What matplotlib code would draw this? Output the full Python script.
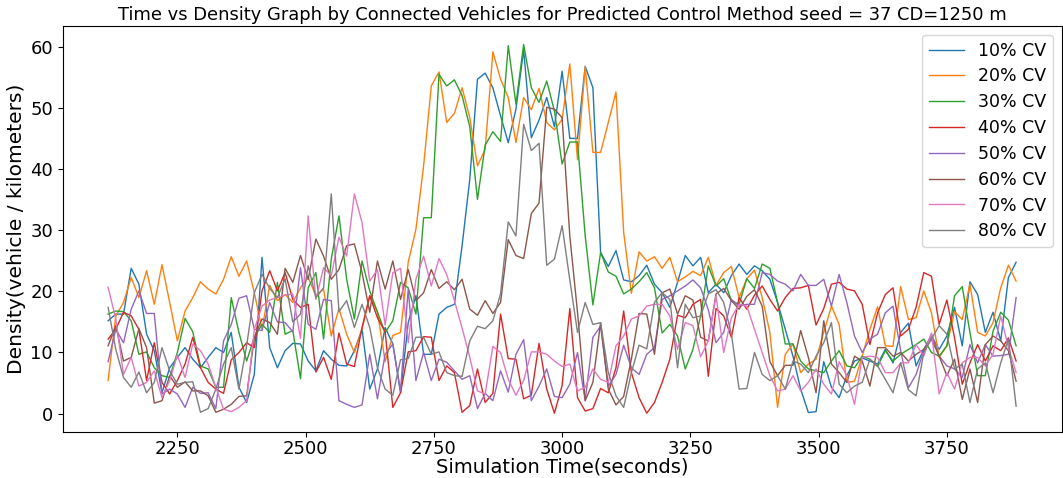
import numpy as np
import matplotlib
matplotlib.use('Agg')
import matplotlib.pyplot as plt

# time stamps (seconds), one sample every 15 s
times = np.arange(2115, 3886, 15)

labels = ['10% CV', '20% CV', '30% CV', '40% CV', '50% CV', '60% CV', '70% CV', '80% CV']

cv10 = [15.2, 16.3, 16.3, 23.8, 21.2, 13.0, 10.3, 3.4, 7.5, 9.2, 10.8, 8.9, 7.5, 9.2, 10.8, 10.0, 13.3, 4.3, 1.8, 6.4, 25.6, 10.8, 7.5, 10.3,
        11.5, 11.4, 8.6, 7.0, 10.3, 8.9, 7.9, 7.8, 10.3, 13.8, 4.0, 7.3, 14.1, 11.4, 3.4, 14.9, 19.3, 9.7, 9.7, 16.3, 17.4, 17.9, 27.5, 38.4,
        54.8, 55.8, 53.4, 48.8, 44.4, 49.9, 59.6, 45.2, 48.1, 51.8, 47.0, 56.1, 45.1, 45.1, 56.9, 53.4, 26.4, 24.1, 26.7, 21.9, 21.6, 22.6, 24.3, 21.2,
        19.8, 17.4, 21.5, 25.9, 24.2, 25.6, 19.8, 21.2, 19.8, 22.6, 24.5, 22.8, 24.2, 23.4, 22.0, 18.2, 13.8, 9.4, 4.0, 0.16, 0.3, 8.5, 4.3, 2.6,
        6.2, 8.6, 9.1, 8.6, 8.1, 10.5, 8.3, 13.3, 14.8, 7.8, 10.5, 12.7, 10.5, 12.7, 17.4, 11.1, 21.6, 19.5, 13.3, 16.6, 11.9, 22.3, 24.8]

cv20 = [5.4, 16.0, 18.2, 22.3, 19.0, 23.4, 17.9, 24.4, 18.2, 11.9, 16.8, 19.0, 21.6, 20.4, 19.6, 22.0, 25.7, 22.5, 25.0, 19.8, 13.8, 21.0, 18.5, 19.5,
        18.2, 20.6, 22.3, 19.3, 20.4, 12.7, 17.2, 13.0, 10.0, 13.8, 19.3, 16.7, 8.5, 12.8, 13.3, 24.8, 30.2, 40.6, 53.7, 56.0, 47.7, 49.2, 53.4,
        48.5, 40.6, 43.3, 59.3, 54.8, 51.8, 44.4, 51.8, 49.8, 53.3, 47.7, 46.5, 48.2, 57.3, 41.6, 56.9, 42.8, 42.8, 47.7, 52.7, 29.7, 19.7, 26.5, 25.0, 25.7,
        23.8, 25.6, 21.6, 22.4, 23.3, 22.6, 25.6, 21.0, 23.1, 24.1, 19.0, 22.1, 23.5, 19.0, 13.3, 1.0, 9.7, 11.4, 6.7, 8.1, 8.9, 13.3, 17.6, 14.6,
        5.1, 5.3, 9.4, 13.8, 17.5, 11.1, 11.0, 20.8, 15.4, 15.7, 20.1, 16.5, 9.2, 11.1, 16.7, 15.4, 21.2, 13.3, 12.7, 14.9, 20.6, 24.3, 21.7]

cv30 = [16.3, 16.8, 16.7, 15.2, 9.7, 10.1, 7.5, 6.2, 5.9, 10.0, 15.6, 13.4, 7.8, 7.3, 4.3, 4.3, 19.0, 13.3, 8.6, 12.5, 14.6, 13.3, 21.5, 13.0,
        13.6, 5.7, 20.6, 23.1, 12.2, 25.3, 32.4, 22.0, 15.5, 25.0, 20.1, 16.6, 13.3, 15.2, 21.5, 20.6, 16.3, 32.1, 32.1, 55.6, 53.7, 54.7, 52.1,
        47.0, 35.1, 44.0, 46.2, 44.6, 60.3, 50.7, 60.5, 53.4, 51.0, 54.5, 49.6, 40.9, 44.5, 44.5, 29.1, 17.8, 26.4, 23.2, 22.5, 19.6, 20.4, 21.6, 23.1, 20.6,
        13.2, 14.6, 12.7, 7.3, 10.5, 16.0, 24.2, 20.9, 22.1, 18.5, 17.9, 22.1, 20.5, 24.5, 23.8, 18.2, 11.4, 11.4, 8.6, 7.3, 7.0, 6.7, 8.6, 10.3,
        7.8, 7.5, 9.4, 8.9, 7.7, 10.3, 8.6, 9.7, 10.5, 11.3, 12.2, 10.0, 9.4, 11.1, 19.3, 20.8, 13.3, 6.2, 6.2, 13.5, 16.6, 15.3, 11.1]

cv40 = [12.2, 13.8, 16.6, 16.0, 13.8, 5.4, 11.6, 5.1, 3.2, 5.4, 8.1, 12.5, 7.5, 5.1, 4.0, 3.3, 8.8, 10.0, 11.6, 10.8, 20.1, 23.4, 20.1, 23.1,
        18.7, 17.4, 17.9, 6.8, 9.2, 5.6, 13.2, 8.1, 7.7, 14.1, 19.3, 15.7, 13.4, 1.0, 3.4, 10.1, 10.3, 12.6, 12.5, 5.4, 7.8, 6.7, 0.2, 1.3,
        7.3, 1.8, 3.3, 16.3, 9.0, 8.9, 2.4, 3.0, 11.5, 4.0, 0.05, 4.6, 17.2, 2.6, 0.4, 0.8, 4.1, 3.4, 7.5, 16.8, 6.7, 2.6, 0.05, 1.8,
        5.1, 8.9, 16.1, 15.7, 17.9, 18.7, 6.1, 17.2, 16.0, 12.5, 19.0, 17.1, 19.4, 20.9, 18.7, 16.8, 19.0, 20.5, 20.6, 21.0, 14.5, 17.2, 21.2, 21.5,
        20.4, 20.1, 17.9, 11.3, 16.5, 19.5, 20.6, 12.7, 13.8, 17.4, 23.1, 22.5, 14.6, 18.6, 12.4, 4.8, 8.3, 11.3, 8.6, 11.1, 10.3, 12.4, 8.6]

cv50 = [8.5, 13.8, 11.6, 17.1, 20.1, 16.4, 16.4, 3.2, 4.0, 3.2, 1.0, 4.3, 3.3, 3.4, 0.8, 11.9, 14.6, 18.9, 19.3, 13.8, 13.6, 18.2, 15.0, 14.9,
        13.4, 23.9, 14.6, 13.8, 18.7, 18.5, 2.1, 1.5, 1.0, 1.4, 9.7, 2.4, 9.7, 11.4, 3.7, 20.4, 5.4, 10.0, 5.4, 8.9, 8.4, 7.0, 5.6, 6.2,
        0.8, 3.3, 2.1, 7.0, 3.5, 9.7, 12.1, 2.1, 4.5, 7.3, 2.8, 2.6, 4.8, 10.0, 2.1, 12.5, 14.3, 4.5, 6.4, 11.2, 7.5, 6.4, 9.7, 10.8,
        18.7, 19.3, 20.1, 20.9, 21.9, 20.6, 17.0, 11.6, 13.3, 18.7, 17.6, 17.9, 17.9, 23.1, 22.8, 21.7, 21.2, 20.1, 22.8, 21.0, 21.0, 22.0, 17.6, 22.8,
        18.2, 12.7, 10.0, 12.2, 13.0, 16.5, 17.6, 10.3, 4.2, 6.4, 10.3, 13.0, 9.4, 7.8, 7.3, 5.9, 11.3, 8.3, 11.3, 9.4, 9.5, 9.7, 19.0]

cv60 = [11.1, 14.4, 8.6, 9.2, 13.9, 10.8, 1.7, 2.1, 6.2, 4.3, 5.2, 3.7, 3.7, 2.9, 0.2, 0.7, 1.5, 2.8, 2.9, 12.5, 15.5, 14.9, 13.0, 23.8,
        21.5, 25.9, 22.0, 28.6, 25.8, 22.0, 23.6, 27.5, 27.8, 23.1, 16.6, 25.0, 20.4, 25.0, 18.7, 23.6, 18.5, 19.8, 23.6, 20.5, 21.6, 20.3, 22.0, 17.1,
        16.1, 18.5, 16.4, 18.2, 28.5, 25.9, 25.4, 32.8, 34.5, 50.2, 49.9, 48.5, 29.1, 16.6, 2.1, 5.1, 14.9, 4.0, 1.4, 2.8, 8.9, 16.4, 16.3, 9.7,
        19.8, 20.4, 16.3, 19.3, 18.6, 12.5, 11.9, 19.6, 20.5, 18.5, 17.1, 19.2, 20.3, 17.6, 8.5, 6.2, 7.9, 7.9, 13.6, 9.2, 3.4, 15.2, 8.1, 6.7,
        5.1, 9.4, 8.6, 4.5, 10.8, 10.8, 9.4, 10.0, 8.6, 9.7, 10.5, 12.2, 9.4, 6.2, 8.9, 2.3, 7.3, 1.8, 11.3, 12.7, 11.9, 10.3, 5.3]

cv70 = [20.7, 15.5, 6.4, 9.2, 4.5, 5.1, 7.0, 2.6, 5.4, 9.6, 5.9, 11.4, 10.3, 8.1, 4.3, 0.7, 0.3, 1.0, 2.1, 13.8, 17.6, 18.6, 19.0, 19.4,
        19.6, 12.3, 32.4, 18.7, 23.9, 22.6, 28.9, 25.8, 36.0, 31.3, 21.7, 23.6, 14.5, 23.1, 23.8, 11.6, 22.0, 25.8, 20.9, 25.4, 22.8, 18.5, 14.0, 9.2,
        3.7, 3.2, 11.0, 10.0, 5.6, 3.0, 5.4, 10.1, 10.1, 9.7, 8.6, 7.7, 8.1, 3.7, 4.3, 7.3, 5.6, 5.1, 11.1, 12.7, 15.5, 16.0, 17.6, 17.9,
        17.9, 16.0, 10.5, 14.9, 14.4, 9.3, 11.9, 19.3, 10.0, 15.7, 17.9, 17.6, 13.8, 10.0, 6.2, 3.7, 4.0, 6.2, 3.7, 5.1, 7.3, 4.8, 3.2, 8.5,
        6.2, 1.5, 9.2, 9.4, 9.2, 6.7, 6.7, 8.3, 8.3, 11.3, 9.4, 13.2, 3.2, 6.7, 4.0, 8.3, 9.2, 9.2, 7.8, 9.7, 16.0, 10.8, 6.7]

cv80 = [17.4, 10.5, 5.9, 4.3, 6.8, 3.4, 5.1, 10.8, 7.0, 4.8, 5.1, 5.2, 0.2, 0.8, 4.0, 8.1, 10.8, 4.0, 11.1, 19.8, 22.8, 20.5, 19.0, 22.1,
        15.0, 16.3, 24.2, 19.0, 20.6, 36.0, 16.7, 18.5, 14.1, 17.9, 14.1, 7.5, 4.0, 3.0, 8.8, 9.0, 12.5, 12.5, 9.7, 10.1, 6.7, 6.2, 6.1, 11.9,
        14.3, 13.9, 15.2, 19.6, 31.4, 29.1, 47.4, 43.1, 44.3, 24.3, 25.3, 30.8, 21.9, 13.3, 18.2, 14.6, 14.9, 6.7, 2.9, 1.0, 6.7, 11.2, 10.6, 18.2,
        19.8, 18.7, 7.5, 17.9, 15.7, 16.0, 19.6, 20.3, 18.2, 13.0, 4.0, 4.1, 10.0, 6.4, 5.4, 6.2, 4.0, 8.6, 8.1, 6.7, 9.4, 11.6, 14.9, 4.8,
        3.4, 4.5, 5.1, 8.9, 7.8, 5.6, 3.4, 8.3, 3.9, 2.9, 10.0, 12.2, 14.4, 13.0, 7.3, 8.1, 1.8, 7.3, 8.3, 3.4, 8.3, 12.2, 1.2]

series = [cv10, cv20, cv30, cv40, cv50, cv60, cv70, cv80]

fig = plt.figure(figsize=(10.63, 4.78), dpi=100)
ax = fig.add_axes([0.059, 0.097, 0.9396, 0.8486])

for vals, lab in zip(series, labels):
    ax.plot(times, vals, linewidth=1.0, label=lab)

ax.set_xticks([2250, 2500, 2750, 3000, 3250, 3500, 3750])
ax.set_yticks([0, 10, 20, 30, 40, 50, 60])
ax.tick_params(labelsize=13)
ax.tick_params(axis='x', pad=2.5)
ax.set_xlabel('Simulation Time(seconds)', fontsize=14, labelpad=0)
ax.set_ylabel('Density(vehicle / kilometers)', fontsize=14.5, labelpad=3)
ax.set_title('Time vs Density Graph by Connected Vehicles for Predicted Control Method seed = 37 CD=1250 m',
             fontsize=12.9, pad=4)
ax.legend(loc='upper right', fontsize=12.5, labelspacing=0.45)

fig.savefig('out.png', dpi=100)
